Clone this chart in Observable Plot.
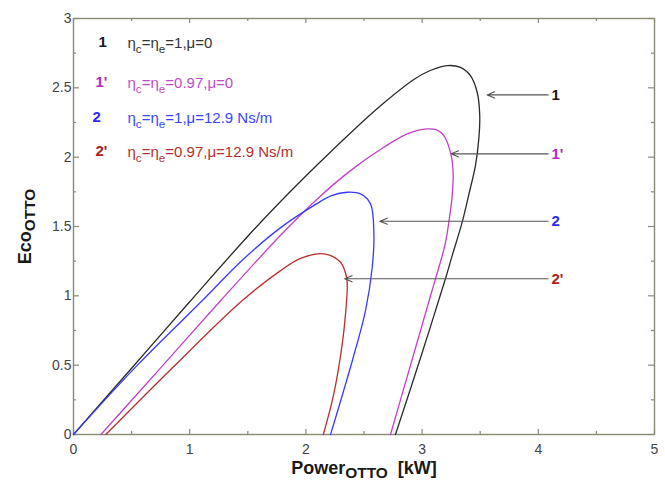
<!DOCTYPE html>
<html>
<head>
<meta charset="utf-8">
<script src="https://cdn.jsdelivr.net/npm/d3@7"></script>
<script src="https://cdn.jsdelivr.net/npm/@observablehq/plot@0.6"></script>
<style>
  html, body { margin: 0; padding: 0; background: #fff; }
  #chart svg { display: block; }
</style>
</head>
<body>
<div id="chart"></div>
<script>
// ---- Data ----
// Curve 1: ηc=ηe=1, μ=0
const x1 = [0, 0.5, 1.0, 1.5, 1.782, 2.098, 2.384, 2.67, 2.929, 3.07, 3.216, 3.33, 3.416, 3.474, 3.496, 3.488, 3.459, 3.40, 3.345, 3.259, 3.201, 2.988, 2.771];
const y1 = [0, 0.478, 0.957, 1.43, 1.68, 1.945, 2.175, 2.39, 2.56, 2.625, 2.66, 2.648, 2.588, 2.468, 2.30, 2.132, 1.939, 1.723, 1.531, 1.29, 1.123, 0.557, 0];
// Curve 1': ηc=ηe=0.97, μ=0
const x1p = [0.236, 0.75, 1.267, 1.78, 2.098, 2.384, 2.67, 2.872, 3.044, 3.13, 3.187, 3.244, 3.267, 3.259, 3.23, 3.205, 3.17, 3.115, 2.92, 2.728];
const y1p = [0, 0.48, 0.966, 1.435, 1.699, 1.903, 2.071, 2.168, 2.204, 2.195, 2.156, 2.035, 1.891, 1.723, 1.531, 1.40, 1.28, 1.123, 0.557, 0];
// Curve 2: ηc=ηe=1, μ=12.9 Ns/m
const x2 = [0, 0.55, 1.109, 1.45, 1.78, 2.07, 2.22, 2.356, 2.47, 2.556, 2.585, 2.571, 2.513, 2.4, 2.212];
const y2 = [0, 0.50, 0.966, 1.255, 1.49, 1.652, 1.722, 1.747, 1.735, 1.663, 1.447, 1.206, 0.894, 0.534, 0];
// Curve 2': ηc=ηe=0.97, μ=12.9 Ns/m
const x2p = [0.278, 0.85, 1.453, 1.782, 1.954, 2.155, 2.298, 2.35, 2.356, 2.341, 2.313, 2.24, 2.15];
const y2p = [0, 0.48, 0.966, 1.182, 1.27, 1.303, 1.242, 1.134, 1.062, 0.87, 0.654, 0.293, 0];

const seriesKeys = ["1", "1'", "2", "2'"];
const seriesTexts = [
  "η_{c}=η_{e}=1,μ=0",
  "η_{c}=η_{e}=0.97,μ=0",
  "η_{c}=η_{e}=1,μ=12.9 Ns/m",
  "η_{c}=η_{e}=0.97,μ=12.9 Ns/m"
];
const keyColors = ["#1a1a1a", "#b02cc0", "#2b2bff", "#b01c1c"];
const textColors = ["#333333", "#c04ec8", "#3a46ff", "#b3302e"];
const lineColors = ["#2a2a2a", "#c040c8", "#3a3aff", "#b83030"];

// Arrow annotations (data units): y level, tip x on curve, tail x
const arrowY = [2.449, 2.024, 1.538, 1.123];
const arrowTipX = [3.56, 3.25, 2.636, 2.333];
const arrowTailX = 4.085;
const arrowLabelX = 4.113;

const xMajor = [0, 1, 2, 3, 4, 5];
const xMinor = [0.5, 1.5, 2.5, 3.5, 4.5];
const yMajor = [0, 0.5, 1, 1.5, 2, 2.5, 3];
const yMinor = [0.25, 0.75, 1.25, 1.75, 2.25, 2.75];

const xTitle = "Power_{OTTO}\u00a0\u00a0[kW]";
const yTitle = "Eco_{OTTO}";

// ---- Build ----
const W = 665, H = 487;
const mL = 73, mR = 11, mT = 18, mB = 53;
const innerW = W - mL - mR, innerH = H - mT - mB;
const frameColor = "#8a8a76";
const font = "'Liberation Sans', Arial, Helvetica, sans-serif";

const curves = [[x1, y1], [x1p, y1p], [x2, y2], [x2p, y2p]].map(([xs, ys], i) =>
  xs.map((x, j) => ({x, y: ys[j], s: seriesKeys[i]})));

const arrows = arrowY.map((y, i) => ({y, tip: arrowTipX[i], key: seriesKeys[i], color: keyColors[i]}));

const marks = [
  Plot.frame({stroke: frameColor, strokeWidth: 1.4}),
  // inward ticks: bottom & top
  Plot.tickX(xMajor, {x: d => d, stroke: frameColor, strokeWidth: 1.2, insetTop: innerH - 5}),
  Plot.tickX(xMinor, {x: d => d, stroke: frameColor, strokeWidth: 1.2, insetTop: innerH - 3}),
  Plot.tickX(xMajor, {x: d => d, stroke: frameColor, strokeWidth: 1.2, insetBottom: innerH - 5}),
  Plot.tickX(xMinor, {x: d => d, stroke: frameColor, strokeWidth: 1.2, insetBottom: innerH - 3}),
  // inward ticks: left & right
  Plot.tickY(yMajor, {y: d => d, stroke: frameColor, strokeWidth: 1.2, insetRight: innerW - 6}),
  Plot.tickY(yMinor, {y: d => d, stroke: frameColor, strokeWidth: 1.2, insetRight: innerW - 3}),
  Plot.tickY(yMajor, {y: d => d, stroke: frameColor, strokeWidth: 1.2, insetLeft: innerW - 6}),
  Plot.tickY(yMinor, {y: d => d, stroke: frameColor, strokeWidth: 1.2, insetLeft: innerW - 3}),
];

curves.forEach((c, i) => {
  marks.push(Plot.line(c, {x: "x", y: "y", stroke: lineColors[i], strokeWidth: 1.3, curve: "catmull-rom"}));
});

marks.push(
  Plot.arrow(arrows, {x1: () => arrowTailX, x2: "tip", y1: "y", y2: "y", stroke: "#555", strokeWidth: 1.1, headLength: 11, headAngle: 45}),
  Plot.text(arrows, {x: () => arrowLabelX, y: "y", text: "key", fill: "color", textAnchor: "start", lineAnchor: "middle", fontWeight: "bold", fontSize: 15, fontFamily: font})
);

// legend rows in the upper left
const keyDx = [25, 22, 19, 22];
const rowDy = [24, 64, 99, 133];
seriesKeys.forEach((k, i) => {
  marks.push(Plot.text([k], {frameAnchor: "top-left", dx: keyDx[i], dy: rowDy[i], fill: keyColors[i], textAnchor: "start", lineAnchor: "middle", fontWeight: "bold", fontSize: 15, fontFamily: font}));
  marks.push(Plot.text([seriesTexts[i]], {frameAnchor: "top-left", dx: 54, dy: rowDy[i] + 1, fill: textColors[i], textAnchor: "start", lineAnchor: "middle", fontSize: 15, fontFamily: font}));
});

// axis titles
marks.push(
  Plot.text([xTitle], {frameAnchor: "bottom", dy: 39, fill: "#1a1a1a", textAnchor: "middle", fontWeight: "bold", fontSize: 18, fontFamily: font}),
  Plot.text([yTitle], {frameAnchor: "left", dx: -48, rotate: -90, fill: "#1a1a1a", textAnchor: "middle", lineAnchor: "middle", fontWeight: "bold", fontSize: 18, fontFamily: font})
);

const svg = Plot.plot({
  width: W,
  height: H,
  marginLeft: mL,
  marginRight: mR,
  marginTop: mT,
  marginBottom: mB,
  style: {fontFamily: font, fontSize: "14px", color: "#444", background: "#fff"},
  x: {domain: [0, 5], ticks: xMajor, tickSize: 0, tickPadding: 10, tickFormat: d => String(d), label: null},
  y: {domain: [0, 3], ticks: yMajor, tickSize: 0, tickPadding: 2, tickFormat: d => String(d), label: null},
  marks
});

document.getElementById("chart").appendChild(svg);

// render _{...} as subscripts (after attaching, so computed styles are available)
d3.select(svg).selectAll("text").each(function() {
  const t = this.textContent;
  if (!t.includes("_{")) return;
  const size = parseFloat(getComputedStyle(this).fontSize) || 15;
  const big = size >= 17;
  const subSize = big ? size * 0.86 : size * 0.78;
  const shift = big ? 4 : Math.round(size * 0.3 * 10) / 10;
  const parts = t.split(/(_\{[^}]*\})/);
  const sel = d3.select(this);
  sel.text(null);
  let shifted = false;
  for (const p of parts) {
    if (!p) continue;
    if (p.startsWith("_{")) {
      sel.append("tspan").attr("font-size", subSize).attr("dy", shift).text(p.slice(2, -1));
      shifted = true;
    } else {
      const ts = sel.append("tspan").text(p);
      if (shifted) { ts.attr("dy", -shift); shifted = false; }
    }
  }
});
</script>
</body>
</html>
